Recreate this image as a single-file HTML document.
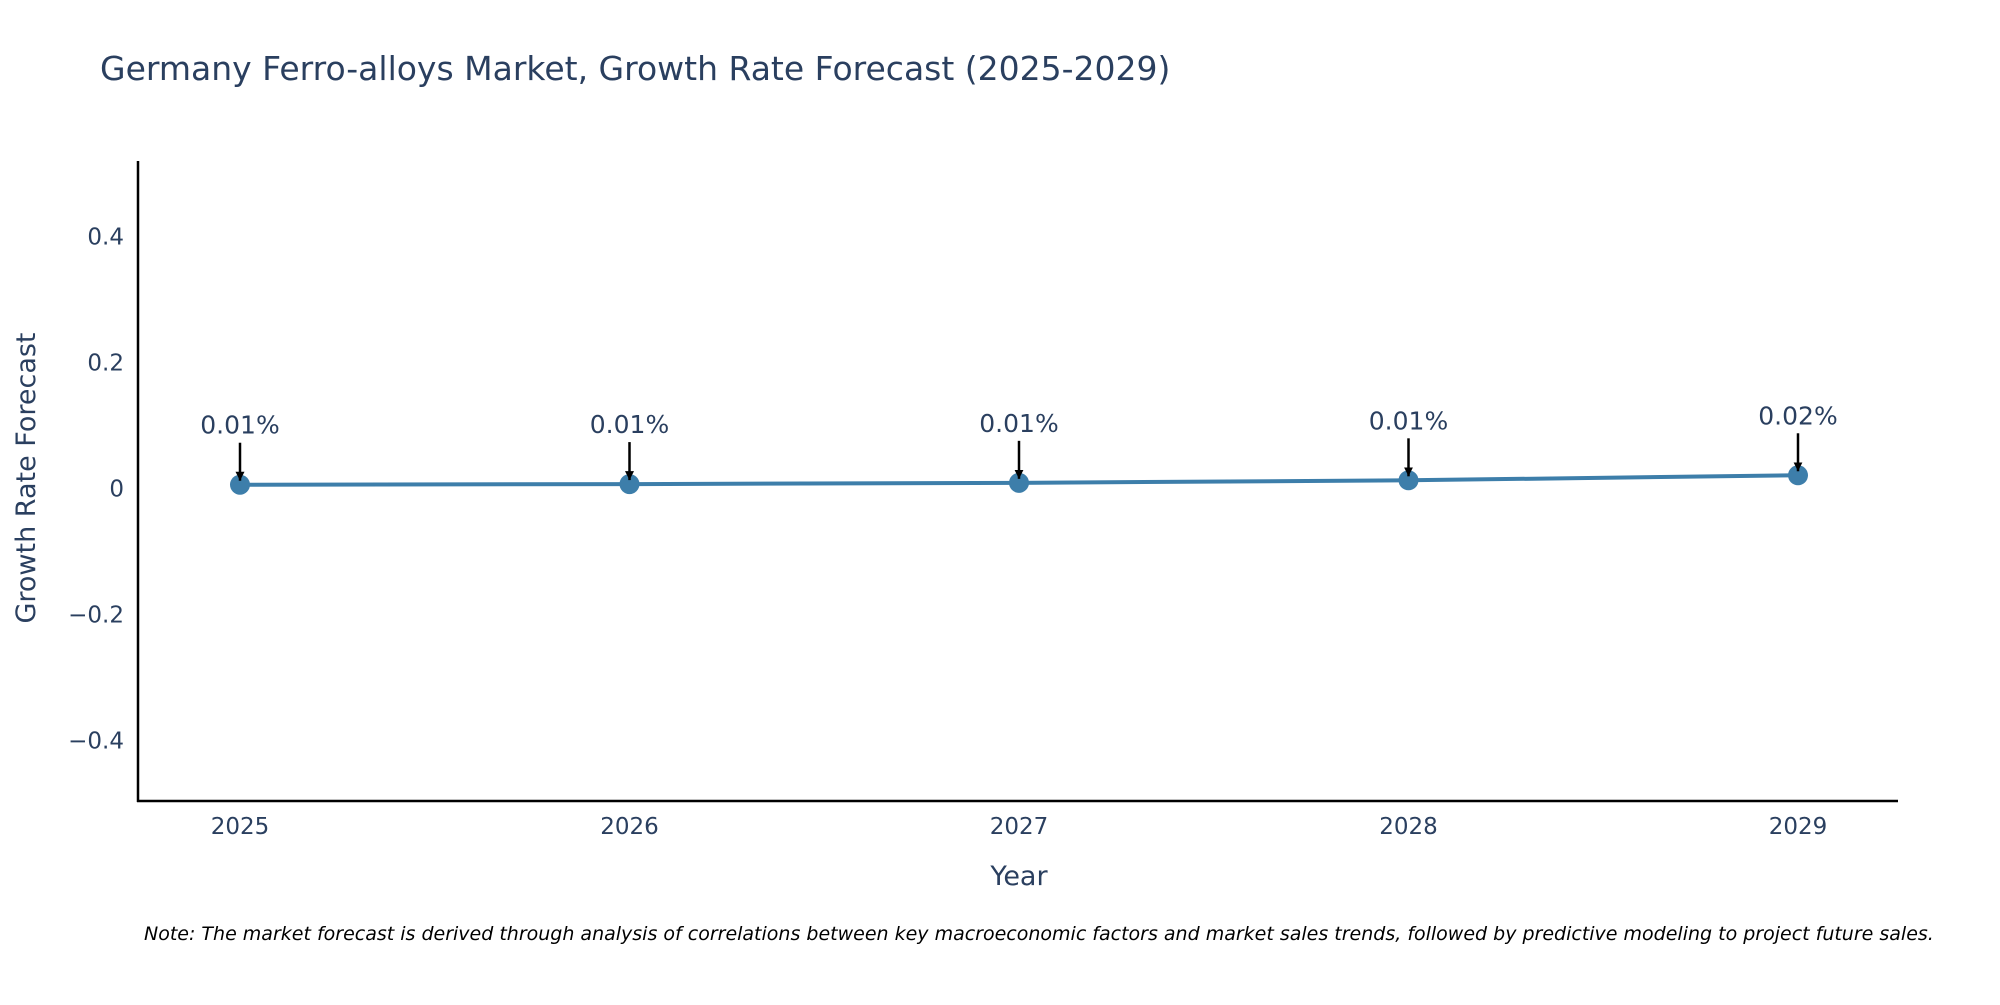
<!DOCTYPE html>
<html><head><meta charset="utf-8"><style>
html,body{margin:0;padding:0;background:#fff;overflow:hidden;}
svg text{font-family:"DejaVu Sans","Liberation Sans",sans-serif;}
</style></head><body>
<svg id="chart" width="2000" height="1000" viewBox="0 0 2000 1000" xmlns="http://www.w3.org/2000/svg">
<defs><marker id="ah" viewBox="0 0 10 10" refX="10" refY="5" markerWidth="3.6" markerHeight="3.6" markerUnits="strokeWidth" orient="auto"><path d="M0,0 L10,5 L0,10 z" fill="#000"/></marker></defs>
<text x="100" y="80" font-size="33" fill="#2a3f5f">Germany Ferro-alloys Market, Growth Rate Forecast (2025-2029)</text>
<g id="yticks"></g><g id="xticks"></g>
<line x1="138" y1="161" x2="138" y2="802" stroke="#000" stroke-width="2.5"/>
<line x1="137" y1="801" x2="1898" y2="801" stroke="#000" stroke-width="2.5"/>
<g id="series"></g><g id="annots"></g>
<text x="1019" y="885" font-size="27" fill="#2a3f5f" text-anchor="middle">Year</text>
<text transform="translate(35,478) rotate(-90)" font-size="27" fill="#2a3f5f" text-anchor="middle">Growth Rate Forecast</text>
<text x="144" y="940" font-size="19" font-style="italic" fill="#000">Note: The market forecast is derived through analysis of correlations between key macroeconomic factors and market sales trends, followed by predictive modeling to project future sales.</text>
</svg>
<script>
const categories=["2025","2026","2027","2028","2029"];
const values=[0.006,0.007,0.009,0.013,0.021];
const labels=["0.01%","0.01%","0.01%","0.01%","0.02%"];
const yTicks=[-0.4,-0.2,0,0.2,0.4];
const yTickLabels=["\u22120.4","\u22120.2","0","0.2","0.4"];
const NS="http://www.w3.org/2000/svg";
function xs(i){return 240+i*389.5;}
function ys(v){return 488.5-v*630;}
function mk(t,a,p){const e=document.createElementNS(NS,t);for(const k in a)e.setAttribute(k,a[k]);p.appendChild(e);return e;}
const yg=document.getElementById('yticks');
yTicks.forEach((v,i)=>{const t=mk('text',{x:124,y:ys(v)+8,'font-size':23,fill:'#2a3f5f','text-anchor':'end'},yg);


t.textContent=yTickLabels[i];});
const xg=document.getElementById('xticks');
categories.forEach((c,i)=>{const t=mk('text',{x:xs(i),y:834,'font-size':23,fill:'#2a3f5f','text-anchor':'middle'},xg);


t.textContent=c;});
const sg=document.getElementById('series');
const pl=mk('polyline',{points:values.map((v,i)=>xs(i)+','+ys(v)).join(' '),fill:'none',stroke:'#3d7eaa','stroke-width':4},sg);


values.forEach((v,i)=>{const c=mk('circle',{cx:xs(i),cy:ys(v),r:10,fill:'#3d7eaa'},sg);

});
const ag=document.getElementById('annots');
values.forEach((v,i)=>{const y=ys(v);
const l=mk('line',{x1:xs(i),y1:y-42,x2:xs(i),y2:y-4,stroke:'#000','stroke-width':2.5,'marker-end':'url(#ah)'},ag);


const t=mk('text',{x:xs(i),y:y-51,'font-size':25,fill:'#2a3f5f','text-anchor':'middle'},ag);


t.textContent=labels[i];});
</script>
</body></html>
